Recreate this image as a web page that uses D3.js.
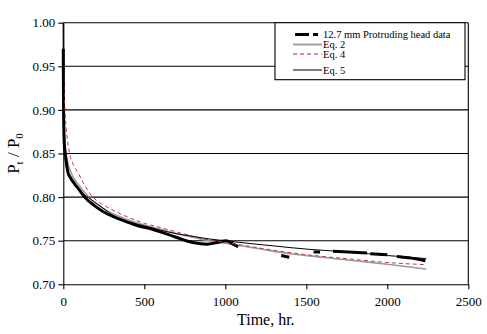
<!DOCTYPE html>
<html><head><meta charset="utf-8">
<script src="https://cdn.jsdelivr.net/npm/d3@7"></script>
<style>body{margin:0;background:#fff}svg{display:block}svg text{font-family:"Liberation Serif","Times New Roman",serif !important;fill:#000}</style>
</head><body><svg id="c" width="487" height="334"></svg>
<script>
// ---- data ----
const xTicks = [0, 500, 1000, 1500, 2000, 2500];
const yTicks = [0.70, 0.75, 0.80, 0.85, 0.90, 0.95, 1.00];
const seriesNames = ["12.7 mm Protruding head data", "Eq. 2", "Eq. 4", "Eq. 5"];

// measured data (null = gap between recorded stretches)
const dataT = [0,0.3,0.7,1.2,2,3,5,8,12,20,29,45,70,100,132,194,250,317,400,461,536,585,650,741,800,887,950,1005,1040,1080,null,
  1345,1395,null,1545,1585,null,1665,1760,1875,null,1895,2000,null,2060,2150,2235];
const dataV = [0.970,0.950,0.930,0.910,0.895,0.880,0.865,0.856,0.850,0.838,0.828,0.822,0.815,0.808,0.800,0.790,0.783,0.777,0.771,0.767,0.764,0.761,0.757,0.751,0.748,0.746,0.748,0.750,0.747,0.743,null,
  0.733,0.731,null,0.737,0.737,null,0.738,0.737,0.736,null,0.735,0.734,null,0.732,0.730,0.727];

const eq2T = [0,1,3,6,12,25,50,90,130,173,240,317,400,500,600,700,800,900,1000,1200,1400,1600,1800,2000,2240];
const eq2V = [1.0,0.94,0.905,0.88,0.86,0.842,0.827,0.815,0.806,0.797,0.788,0.780,0.774,0.768,0.763,0.758,0.754,0.750,0.747,0.741,0.735,0.731,0.727,0.723,0.7176];

const eq4T = [0,1,3,6,10,19,39,60,91,130,173,230,296,400,500,600,700,800,900,1000,1100,1300,1500,1770,2000,2240];
const eq4V = [1.0,0.975,0.945,0.92,0.90,0.877,0.85,0.838,0.828,0.814,0.802,0.793,0.786,0.777,0.770,0.765,0.760,0.755,0.751,0.748,0.745,0.739,0.734,0.729,0.725,0.7225];

const eq5T = [0,0.5,1.5,4,10,25,49,80,111,173,240,317,400,500,600,700,800,900,1000,1090,1300,1523,1769,2000,2240];
const eq5V = [1.0,0.93,0.90,0.87,0.848,0.83,0.821,0.812,0.806,0.797,0.788,0.778,0.772,0.767,0.762,0.758,0.755,0.752,0.750,0.748,0.744,0.740,0.737,0.733,0.7295];

// ---- drawing ----
const svg = d3.select("#c");
const SERIF = "'Liberation Serif', 'Times New Roman', serif";
const L = 63.3, R = 468.3, T = 22.7, B = 284.3;
const x = d3.scaleLinear().domain([0, 2500]).range([L, R]);
const y = d3.scaleLinear().domain([0.70, 1.00]).range([B, T]);

// gridlines
svg.append("g").selectAll("line").data(yTicks.slice(1)).join("line")
  .attr("x1", L).attr("x2", R).attr("y1", d => y(d)).attr("y2", d => y(d))
  .attr("stroke", "#000").attr("stroke-width", 1.1);
// right border
svg.append("line").attr("x1", R).attr("x2", R).attr("y1", T).attr("y2", B).attr("stroke", "#000").attr("stroke-width", 1.1);

const zip = (a, b) => a.map((t, i) => [t, b[i]]);
const line = d3.line().defined(d => d[0] !== null && d[1] !== null)
  .x(d => x(d[0])).y(d => y(d[1])).curve(d3.curveMonotoneX);

const g = svg.append("g");
g.append("path").datum(zip(eq2T, eq2V)).attr("d", line).attr("fill", "none").attr("stroke", "#9a9a9a").attr("stroke-width", 1.6);
g.append("path").datum(zip(dataT, dataV)).attr("d", line).attr("fill", "none").attr("stroke", "#000").attr("stroke-width", 3);
g.append("path").datum(zip(eq4T, eq4V)).attr("d", line).attr("fill", "none").attr("stroke", "#c8383a").attr("stroke-width", 1).attr("stroke-dasharray", "4,3");
g.append("path").datum(zip(eq5T, eq5V)).attr("d", line).attr("fill", "none").attr("stroke", "#000").attr("stroke-width", 1);

// axes
const xAxis = d3.axisBottom(x).tickValues(xTicks).tickFormat(d3.format("d")).tickSizeInner(5).tickSizeOuter(0);
const gx = svg.append("g").attr("transform", `translate(0,${B})`).call(xAxis).attr("font-family", SERIF);
gx.select(".domain").attr("stroke", "#000").attr("stroke-width", 1.1);
gx.selectAll(".tick line").attr("stroke", "#000").attr("stroke-width", 1.1);
gx.selectAll("text").attr("font-size", 13).style("font-family", SERIF).attr("dy", "0").attr("y", 22);

const yAxis = d3.axisLeft(y).tickValues(yTicks).tickFormat(d3.format(".2f")).tickSizeInner(5).tickSizeOuter(0);
const gy = svg.append("g").attr("transform", `translate(${L},0)`).call(yAxis).attr("font-family", SERIF);
gy.select(".domain").attr("stroke", "#000").attr("stroke-width", 1.1);
gy.selectAll(".tick line").attr("stroke", "#000").attr("stroke-width", 1.1);
gy.selectAll("text").attr("font-size", 13).style("font-family", SERIF).attr("x", -8);

// axis titles
svg.append("text").attr("x", (L + R) / 2).attr("y", 325).attr("text-anchor", "middle").attr("font-size", 16).style("font-family", SERIF).text("Time, hr.");
const yl = svg.append("text").attr("transform", `translate(19,${(T + B) / 2}) rotate(-90)`).attr("text-anchor", "middle").attr("font-size", 17).style("font-family", SERIF);
yl.append("tspan").text("P");
yl.append("tspan").attr("font-size", 11).attr("dy", 4).text("t");
yl.append("tspan").attr("dy", -4).text(" / P");
yl.append("tspan").attr("font-size", 11).attr("dy", 4).text("0");

// legend
const lg = svg.append("g");
lg.append("rect").attr("x", 275).attr("y", T).attr("width", 190).attr("height", 57)
  .attr("fill", "#fff").attr("stroke", "#000").attr("stroke-width", 1.1);
const rows = [34.5, 44.5, 54, 70];
const styles = [
  {stroke: "#000", w: 3, dash: "14,4,5,100"},
  {stroke: "#9a9a9a", w: 1.8, dash: null},
  {stroke: "#b22222", w: 1.2, dash: "4,3"},
  {stroke: "#000", w: 1, dash: null}
];
seriesNames.forEach((name, i) => {
  const s = styles[i];
  lg.append("line").attr("x1", i === 0 ? 295 : 293).attr("x2", i === 0 ? 318 : 322)
    .attr("y1", rows[i]).attr("y2", rows[i])
    .attr("stroke", s.stroke).attr("stroke-width", s.w).attr("stroke-dasharray", s.dash);
  lg.append("text").attr("x", 323).attr("y", rows[i] + 3.5).attr("font-size", 10.5).style("font-family", SERIF).text(name);
});
</script></body></html>
